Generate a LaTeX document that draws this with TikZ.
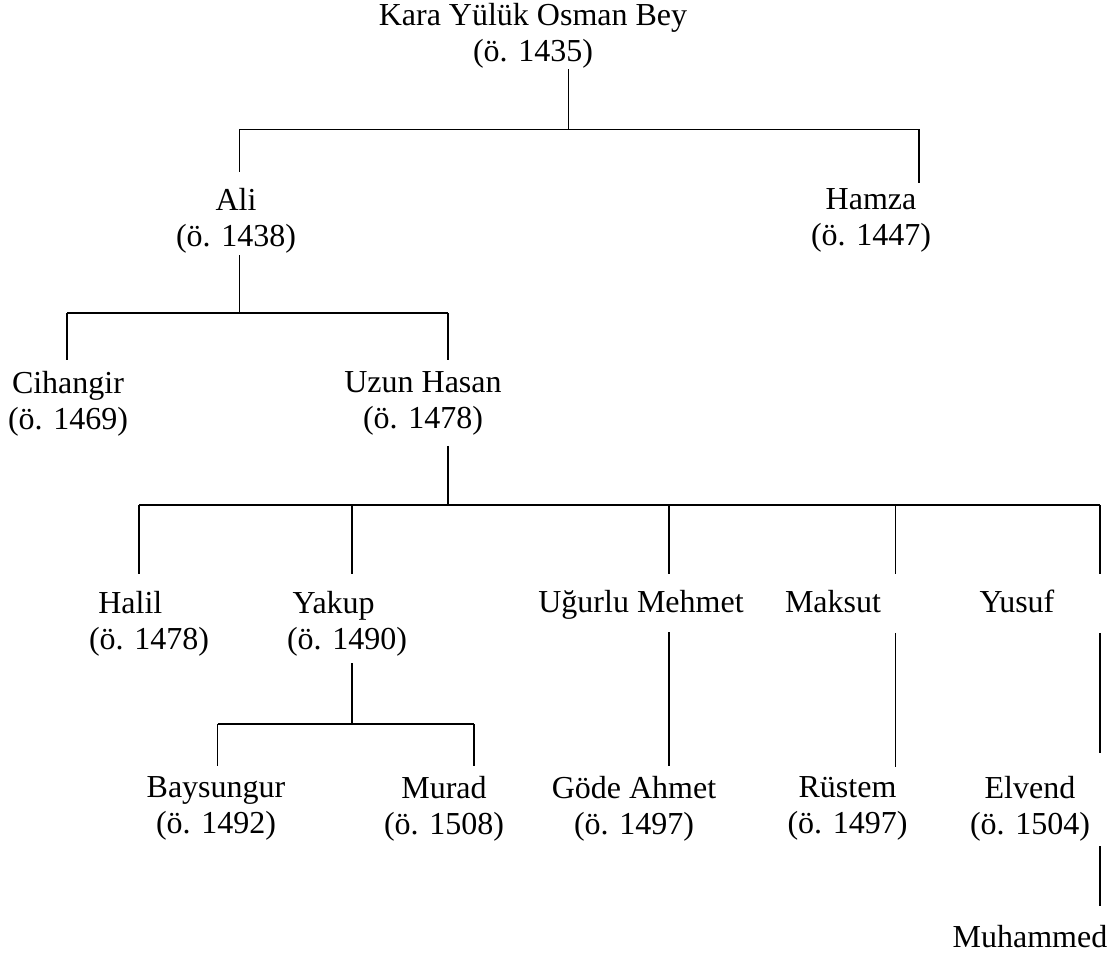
\documentclass[tikz,border=0pt]{standalone}
\usepackage{fontspec}
\setmainfont{Liberation Serif}
\begin{document}
\begin{tikzpicture}[
  x=0.375pt,y=-0.375pt,
  person/.style={align=center, inner sep=0pt, font=\fontsize{12}{13.5}\selectfont},
  single/.style={anchor=base, inner sep=0pt, font=\fontsize{12}{13.5}\selectfont},
  bar/.style={line width=0.7pt},
  drop/.style={line width=0.45pt}]
\useasboundingbox (0,0) rectangle (1109,957);
% people
\node[person] (osman) at (533,35.4) {Kara Yülük Osman Bey\\(ö. 1435)};
\node[person] (ali) at (236,220.4) {Ali\\(ö. 1438)};
\node[person] (hamza) at (871,220.4) {Hamza\\(ö. 1447)};
\node[person] (cihangir) at (68,403.4) {Cihangir\\(ö. 1469)};
\node[person] (uzunhasan) at (423,403.4) {Uzun Hasan\\(ö. 1478)};
\node[person] (halil) at (149,623.4) {Halil\hspace*{14pt}\\(ö. 1478)};
\node[person] (yakup) at (347,623.4) {Yakup\hspace*{10pt}\\(ö. 1490)};
\node[single] (ugurlu) at (641,613) {Uğurlu Mehmet};
\node[single] (maksut) at (833,613) {Maksut};
\node[single] (yusuf) at (1017,613) {Yusuf};
\node[person] (baysungur) at (216,808.4) {Baysungur\\(ö. 1492)};
\node[person] (murad) at (444,808.4) {Murad\\(ö. 1508)};
\node[person] (gode) at (634,808.4) {Göde Ahmet\\(ö. 1497)};
\node[person] (rustem) at (847.5,808.4) {Rüstem\\(ö. 1497)};
\node[person] (elvend) at (1030,808.4) {Elvend\\(ö. 1504)};
\node[single] (muhammed) at (1030,947) {Muhammed};
% Osman Bey -> Ali, Hamza
\coordinate (j1) at (568.6,129.5);
\draw[drop] (osman.south -| j1) ++(0,1) -- (j1);
\draw[bar] (239.5,129.5) coordinate (ali-j) -- (919,129.5) coordinate (hamza-j);
\draw[drop] (ali-j) -- ++(0,42.5);
\draw[drop] (hamza-j) -- ++(0,53.5);
% Ali -> Cihangir, Uzun Hasan
\coordinate (j2) at (239.5,313);
\draw[drop] (ali.south -| j2) ++(0,2) -- (j2);
\draw[bar] (67,313) coordinate (cihangir-j) -- (448,313) coordinate (uzunhasan-j);
\draw[drop] (cihangir-j) -- ++(0,47);
\draw[drop] (uzunhasan-j) -- ++(0,47);
% Uzun Hasan -> sons
\coordinate (j3) at (448,505);
\draw[drop] (uzunhasan.south -| j3) ++(0,10) -- (j3);
\draw[bar] (139,505) -- (1100,505);
\foreach \n/\x in {halil/139,yakup/352,ugurlu/669,maksut/895.5,yusuf/1100}
  \draw[drop] (\x,505) coordinate (\n-j) -- ++(0,69);
% Yakup -> Baysungur, Murad
\coordinate (j4) at (352,724);
\draw[drop] (yakup.south -| j4) ++(0,7) -- (j4);
\draw[bar] (217.5,724) coordinate (baysungur-j) -- (474,724) coordinate (murad-j);
\draw[drop] (baysungur-j) -- ++(0,42);
\draw[drop] (murad-j) -- ++(0,42);
% single lines
\draw[drop] (ugurlu-j |- ugurlu.south) ++(0,12) -- ++(0,134);
\draw[drop] (maksut-j |- maksut.south) ++(0,19) -- ++(0,134);
\draw[drop] (yusuf-j |- yusuf.south) ++(0,19) -- ++(0,120);
\draw[drop] (elvend.south -| yusuf-j) ++(0,5) -- ++(0,60);
\end{tikzpicture}
\end{document}
